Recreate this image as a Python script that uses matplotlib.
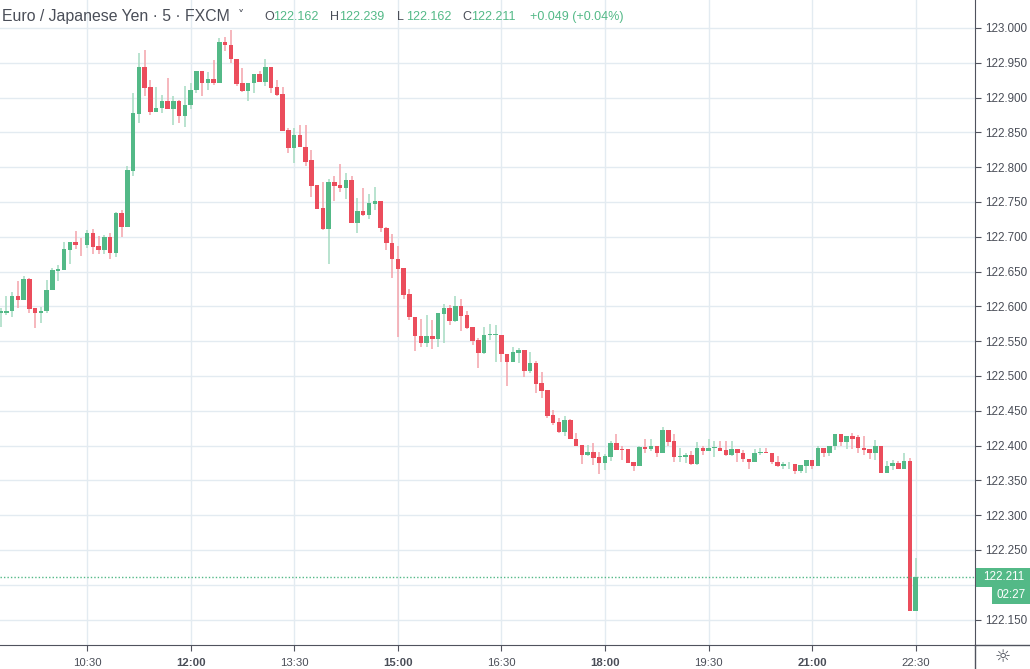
import matplotlib.pyplot as plt
from matplotlib.patches import Rectangle
from matplotlib.lines import Line2D
import numpy as np
import pandas as pd

plt.rcParams['font.family'] = ['Liberation Sans', 'DejaVu Sans']

# EUR/JPY 5 minute candles, first bar at 09:15
opens = [122.591, 122.591, 122.594, 122.615, 122.609, 122.640, 122.597, 122.590, 122.593, 122.623,
         122.651, 122.652, 122.681, 122.692, 122.690, 122.688, 122.705, 122.687, 122.681, 122.700,
         122.677, 122.734, 122.714, 122.795, 122.877, 122.944, 122.915, 122.879, 122.885, 122.895,
         122.884, 122.895, 122.874, 122.890, 122.911, 122.938, 122.921, 122.926, 122.921, 122.980,
         122.975, 122.956, 122.921, 122.910, 122.921, 122.934, 122.922, 122.944, 122.915, 122.905,
         122.854, 122.827, 122.846, 122.829, 122.810, 122.774, 122.741, 122.711, 122.778, 122.774,
         122.770, 122.781, 122.720, 122.737, 122.731, 122.747, 122.751, 122.713, 122.691, 122.668,
         122.655, 122.618, 122.585, 122.558, 122.547, 122.557, 122.553, 122.589, 122.598, 122.579,
         122.600, 122.587, 122.570, 122.551, 122.533, 122.559, 122.559, 122.559, 122.532, 122.520,
         122.533, 122.538, 122.507, 122.518, 122.490, 122.480, 122.444, 122.434, 122.420, 122.437,
         122.410, 122.401, 122.387, 122.391, 122.383, 122.375, 122.384, 122.404, 122.395, 122.395,
         122.376, 122.370, 122.398, 122.395, 122.400, 122.389, 122.422, 122.406, 122.383, 122.383,
         122.387, 122.373, 122.396, 122.392, 122.397, 122.397, 122.393, 122.386, 122.395, 122.390,
         122.381, 122.376, 122.390, 122.391, 122.390, 122.377, 122.370, 122.373, 122.373, 122.363,
         122.371, 122.379, 122.371, 122.397, 122.389, 122.399, 122.416, 122.405, 122.413, 122.412,
         122.397, 122.395, 122.389, 122.400, 122.361, 122.370, 122.375, 122.366, 122.378, 122.162]
highs = [122.598, 122.615, 122.620, 122.637, 122.644, 122.641, 122.597, 122.599, 122.638, 122.655,
         122.660, 122.692, 122.692, 122.708, 122.698, 122.710, 122.711, 122.701, 122.702, 122.705,
         122.735, 122.738, 122.802, 122.906, 122.964, 122.968, 122.925, 122.915, 122.904, 122.928,
         122.902, 122.897, 122.917, 122.921, 122.938, 122.938, 122.937, 122.954, 122.985, 122.987,
         122.997, 122.956, 122.942, 122.921, 122.934, 122.938, 122.955, 122.944, 122.925, 122.915,
         122.856, 122.856, 122.860, 122.860, 122.824, 122.774, 122.778, 122.783, 122.787, 122.804,
         122.791, 122.788, 122.755, 122.770, 122.762, 122.771, 122.751, 122.714, 122.704, 122.687,
         122.655, 122.625, 122.585, 122.582, 122.587, 122.580, 122.590, 122.603, 122.602, 122.615,
         122.611, 122.594, 122.570, 122.555, 122.570, 122.574, 122.573, 122.559, 122.532, 122.541,
         122.540, 122.538, 122.534, 122.521, 122.505, 122.480, 122.451, 122.440, 122.442, 122.438,
         122.418, 122.401, 122.401, 122.404, 122.391, 122.388, 122.406, 122.417, 122.399, 122.395,
         122.377, 122.400, 122.410, 122.410, 122.400, 122.426, 122.423, 122.416, 122.397, 122.390,
         122.392, 122.405, 122.400, 122.410, 122.406, 122.407, 122.407, 122.407, 122.395, 122.394,
         122.381, 122.395, 122.397, 122.397, 122.390, 122.385, 122.376, 122.376, 122.373, 122.372,
         122.379, 122.379, 122.400, 122.397, 122.400, 122.417, 122.416, 122.413, 122.418, 122.415,
         122.413, 122.395, 122.408, 122.400, 122.378, 122.379, 122.378, 122.389, 122.382, 122.239]
lows = [122.570, 122.588, 122.584, 122.598, 122.609, 122.591, 122.569, 122.576, 122.591, 122.623,
        122.637, 122.652, 122.661, 122.682, 122.673, 122.684, 122.675, 122.675, 122.675, 122.668,
        122.671, 122.700, 122.714, 122.787, 122.864, 122.902, 122.875, 122.879, 122.878, 122.883,
        122.860, 122.864, 122.857, 122.883, 122.906, 122.902, 122.911, 122.918, 122.921, 122.967,
        122.950, 122.917, 122.908, 122.895, 122.906, 122.922, 122.917, 122.907, 122.902, 122.852,
        122.820, 122.806, 122.829, 122.802, 122.757, 122.740, 122.710, 122.661, 122.751, 122.764,
        122.754, 122.720, 122.706, 122.730, 122.725, 122.739, 122.707, 122.681, 122.641, 122.556,
        122.610, 122.581, 122.536, 122.541, 122.541, 122.539, 122.541, 122.547, 122.573, 122.577,
        122.564, 122.567, 122.545, 122.511, 122.532, 122.551, 122.520, 122.520, 122.486, 122.520,
        122.518, 122.498, 122.504, 122.475, 122.468, 122.439, 122.429, 122.418, 122.414, 122.409,
        122.400, 122.373, 122.385, 122.372, 122.359, 122.365, 122.378, 122.394, 122.379, 122.375,
        122.364, 122.370, 122.390, 122.392, 122.383, 122.389, 122.399, 122.377, 122.376, 122.375,
        122.372, 122.372, 122.387, 122.392, 122.383, 122.392, 122.385, 122.385, 122.377, 122.377,
        122.366, 122.376, 122.386, 122.389, 122.374, 122.369, 122.367, 122.366, 122.359, 122.360,
        122.360, 122.367, 122.371, 122.383, 122.385, 122.394, 122.400, 122.395, 122.395, 122.389,
        122.386, 122.381, 122.379, 122.361, 122.361, 122.365, 122.366, 122.366, 122.162, 122.162]
closes = [122.594, 122.594, 122.615, 122.609, 122.640, 122.596, 122.590, 122.594, 122.624, 122.652,
          122.654, 122.682, 122.692, 122.688, 122.689, 122.705, 122.686, 122.681, 122.700, 122.677,
          122.734, 122.714, 122.796, 122.878, 122.944, 122.914, 122.879, 122.885, 122.895, 122.884,
          122.895, 122.874, 122.890, 122.911, 122.938, 122.921, 122.926, 122.921, 122.980, 122.975,
          122.956, 122.920, 122.910, 122.921, 122.934, 122.922, 122.944, 122.914, 122.904, 122.852,
          122.827, 122.846, 122.829, 122.808, 122.773, 122.740, 122.711, 122.778, 122.773, 122.770,
          122.781, 122.720, 122.737, 122.731, 122.748, 122.751, 122.713, 122.691, 122.668, 122.654,
          122.617, 122.584, 122.557, 122.547, 122.557, 122.553, 122.590, 122.598, 122.579, 122.600,
          122.586, 122.569, 122.550, 122.533, 122.559, 122.559, 122.560, 122.532, 122.520, 122.534,
          122.538, 122.507, 122.518, 122.489, 122.479, 122.443, 122.433, 122.420, 122.437, 122.409,
          122.400, 122.387, 122.391, 122.382, 122.375, 122.385, 122.404, 122.394, 122.394, 122.375,
          122.370, 122.398, 122.395, 122.400, 122.389, 122.422, 122.405, 122.383, 122.385, 122.387,
          122.373, 122.396, 122.392, 122.397, 122.398, 122.392, 122.386, 122.395, 122.389, 122.380,
          122.376, 122.390, 122.391, 122.389, 122.376, 122.370, 122.373, 122.373, 122.363, 122.372,
          122.379, 122.371, 122.397, 122.389, 122.400, 122.416, 122.405, 122.413, 122.410, 122.396,
          122.393, 122.389, 122.400, 122.361, 122.370, 122.375, 122.366, 122.378, 122.162, 122.211]

time_labels = ["10:30", "12:00", "13:30", "15:00", "16:30", "18:00", "19:30", "21:00", "22:30"]
bold_labels = ["12:00", "15:00", "18:00", "21:00"]
price_ticks = [122.150, 122.200, 122.250, 122.300, 122.350, 122.400, 122.450, 122.500, 122.550,
               122.600, 122.650, 122.700, 122.750, 122.800, 122.850, 122.900, 122.950, 123.000]
last_price = 122.211
countdown = "02:27"
title = "Euro / Japanese Yen · 5 · FXCM"
ohlc_text = [("O", "122.162"), ("H", "122.239"), ("L", "122.162"), ("C", "122.211")]
change_text = "+0.049 (+0.04%)"

UP = '#53b987'
DOWN = '#eb4d5c'
UP_WICK = '#a6dbc2'
DOWN_WICK = '#f4a3ab'
TXT = '#4a4e58'
GRID = '#e3ebf1'
AXC = '#50535e'

W, H = 1030, 669
o = np.array(opens)
h = np.array(highs)
l = np.array(lows)
c = np.array(closes)
x = np.arange(len(o))
times = list(pd.date_range("2019-01-01 09:15", periods=len(o), freq="5min").strftime("%H:%M"))

fig = plt.figure(figsize=(W / 100, H / 100), dpi=100)
ax = fig.add_axes([0, 24 / H, 975 / W, 645 / H])

up = c >= o
body_lo = np.minimum(o, c)
body_h = np.maximum(np.abs(c - o), 0.0008)
ax.vlines(x, l, h, colors=np.where(up, UP_WICK, DOWN_WICK), linewidth=1.1, zorder=2)
ax.bar(x, body_h, bottom=body_lo, width=0.78, color=np.where(up, UP, DOWN), linewidth=0, zorder=3)

ax.set_xlim(-0.12, 169.3)
ax.set_ylim(122.1134, 123.0402)

# axes styling
ax.grid(True, color=GRID, linewidth=1)
ax.set_axisbelow(True)
for s in ['top', 'left']:
    ax.spines[s].set_visible(False)
ax.spines['right'].set_color(AXC)
ax.spines['bottom'].set_color(AXC)
ax.yaxis.tick_right()
ax.set_yticks(price_ticks)
# the tick under the last-price label is covered, as in the app
ax.set_yticklabels(["" if abs(p - last_price) < 0.02 else "%.3f" % p for p in price_ticks])
ax.tick_params(axis='y', length=4, color=AXC, labelsize=8.4, labelcolor=TXT, pad=3)
tick_idx = [times.index(t) for t in time_labels]
ax.set_xticks(tick_idx)
ax.set_xticklabels(time_labels)
ax.tick_params(axis='x', length=4, color=AXC, labelsize=8.2, labelcolor=TXT, pad=5)
for lab in ax.get_xticklabels():
    if lab.get_text() in bold_labels:
        lab.set_fontweight('bold')

# last price line and labels
ax.axhline(last_price, color=UP, linestyle=(0, (1, 1.5)), linewidth=1, zorder=4)
py = ax.transData.transform((0, last_price))[1]
fig.patches.append(Rectangle((976 / W, (py - 9.5) / H), 54 / W, 19 / H,
                             transform=fig.transFigure, facecolor=UP, edgecolor='none', zorder=5))
fig.text(983 / W, py / H, "%.3f" % last_price, color='white', fontsize=8.4, va='center', ha='left', zorder=6)
fig.patches.append(Rectangle((992 / W, (py - 26.5) / H), 38 / W, 17 / H,
                             transform=fig.transFigure, facecolor=UP, edgecolor='none', zorder=5))
fig.text(1011 / W, (py - 18) / H, countdown, color='white', fontsize=8.4, va='center', ha='center', zorder=6)

# bottom right corner lines and icon
fig.lines.append(Line2D([975 / W, 1], [24 / H, 24 / H], transform=fig.transFigure, color=AXC, linewidth=1))
fig.lines.append(Line2D([975 / W, 975 / W], [0, 24 / H], transform=fig.transFigure, color=AXC, linewidth=1))
fig.text(1003 / W, 1 - 657 / H, "☼", color=TXT, fontsize=13, ha='center', va='center',
         family=['DejaVu Sans'])

# header
fig.text(2 / W, 1 - 17 / H, title, color=TXT, fontsize=11.4, va='center', ha='left')
fig.text(238 / W, 1 - 16 / H, "˅", color=TXT, fontsize=9, va='center', ha='left', family=['DejaVu Sans'])
xs = [264, 330, 397, 462]
for (k, v), xp in zip(ohlc_text, xs):
    fig.text(xp / W, 1 - 17 / H, k, color=TXT, fontsize=9, va='center', ha='left')
    fig.text((xp + 9) / W, 1 - 17 / H, v, color=UP, fontsize=9, va='center', ha='left')
fig.text(530 / W, 1 - 17 / H, change_text, color=UP, fontsize=9, va='center', ha='left')

fig.savefig("out.png", dpi=100)
